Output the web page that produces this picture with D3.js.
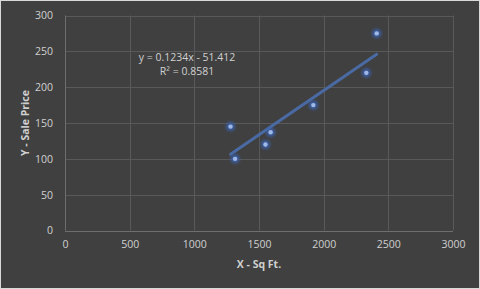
<!DOCTYPE html>
<html><head><meta charset="utf-8">
<script src="https://cdn.jsdelivr.net/npm/d3@7"></script>
<style>html,body{margin:0;padding:0;background:#404040;}svg{display:block;}</style>
</head><body>
<svg id="c" width="480" height="289"></svg>
<script>
const sqft = [1280, 1315, 1550, 1590, 1920, 2330, 2410];
const price = [145, 100, 120, 137, 175, 220, 275];
const xTicks = [0, 500, 1000, 1500, 2000, 2500, 3000];
const yTicks = [0, 50, 100, 150, 200, 250, 300];
const trendCoef = [0.1234, -51.412];
const eqLabels = ["y = 0.1234x - 51.412", "R\u00b2 = 0.8581"];
const xTitle = "X - Sq Ft.";
const yTitle = "Y - Sale Price";

const svg = d3.select("#c");
const font = "'Open Sans', sans-serif";
const textCol = "#d0d0d0";
svg.append("rect").attr("x",0.5).attr("y",0.5).attr("width",479).attr("height",288)
  .attr("fill","#404040").attr("stroke","#d9d9d9").attr("stroke-width",1);

const x = d3.scaleLinear().domain([0,3000]).range([65,453]);
const y = d3.scaleLinear().domain([0,300]).range([230.5,15.5]);

const defs = svg.append("defs");
const f = defs.append("filter").attr("id","glow").attr("x","-100%").attr("y","-100%").attr("width","300%").attr("height","300%");
f.append("feGaussianBlur").attr("stdDeviation",1.8);

// grid
const g = svg.append("g");
g.selectAll(".hg").data(yTicks).enter().append("line")
  .attr("x1",x(0)).attr("x2",x(3000)).attr("y1",d=>Math.round(y(d))+0.5).attr("y2",d=>Math.round(y(d))+0.5)
  .attr("stroke",d=>d===0?"#6e6e6e":"#595959").attr("stroke-width",1);
g.selectAll(".vg").data(xTicks).enter().append("line")
  .attr("y1",y(0)).attr("y2",y(300)).attr("x1",d=>Math.round(x(d))+0.5).attr("x2",d=>Math.round(x(d))+0.5)
  .attr("stroke",d=>d===0?"#6e6e6e":"#595959").attr("stroke-width",1);

// axes labels via d3 axes
const xAxis = d3.axisBottom(x).tickValues(xTicks).tickFormat(d3.format("d")).tickSize(0).tickPadding(10);
const yAxis = d3.axisLeft(y).tickValues(yTicks).tickFormat(d3.format("d")).tickSize(0).tickPadding(12);
const gx = svg.append("g").attr("transform",`translate(0,${y(0)})`).call(xAxis);
const gy = svg.append("g").attr("transform",`translate(${x(0)},0)`).call(yAxis);
[gx,gy].forEach(a=>{
  a.select(".domain").remove();
  a.selectAll("text").attr("fill",textCol).style("font-family",font).style("font-size","10.5px");
});

// trendline
const xs = d3.extent(sqft);
svg.append("line")
  .attr("x1",x(xs[0])).attr("y1",y(trendCoef[0]*xs[0]+trendCoef[1]))
  .attr("x2",x(xs[1])).attr("y2",y(trendCoef[0]*xs[1]+trendCoef[1]))
  .attr("stroke","#4a6aa3").attr("stroke-width",3).attr("stroke-linecap","round");

// points
const pts = svg.append("g").selectAll("g").data(sqft.map((v,i)=>[v,price[i]])).enter().append("g");
pts.append("circle").attr("cx",d=>x(d[0])).attr("cy",d=>y(d[1])).attr("r",4.5)
  .attr("fill","#3a62b0").attr("opacity",0.9).attr("filter","url(#glow)");
pts.append("circle").attr("cx",d=>x(d[0])).attr("cy",d=>y(d[1])).attr("r",2.2)
  .attr("fill","#9fb8e6");

// equation
svg.selectAll(".eq").data(eqLabels).enter().append("text")
  .attr("x",187).attr("y",(d,i)=>57.5+i*14).attr("dy","0.35em").attr("text-anchor","middle")
  .attr("fill",textCol).style("font-family",font).style("font-size","10.5px").text(d=>d);

// titles
svg.append("text").attr("x",(x(0)+x(3000))/2).attr("y",264).attr("dy","0.35em").attr("text-anchor","middle")
  .attr("fill",textCol).style("font-family",font).style("font-size","10.5px").style("font-weight","bold").text(xTitle);
svg.append("text").attr("transform",`translate(25,${(y(0)+y(300))/2}) rotate(-90)`).attr("dy","0.35em").attr("text-anchor","middle")
  .attr("fill",textCol).style("font-family",font).style("font-size","10.5px").style("font-weight","bold").text(yTitle);
</script>
</body></html>
